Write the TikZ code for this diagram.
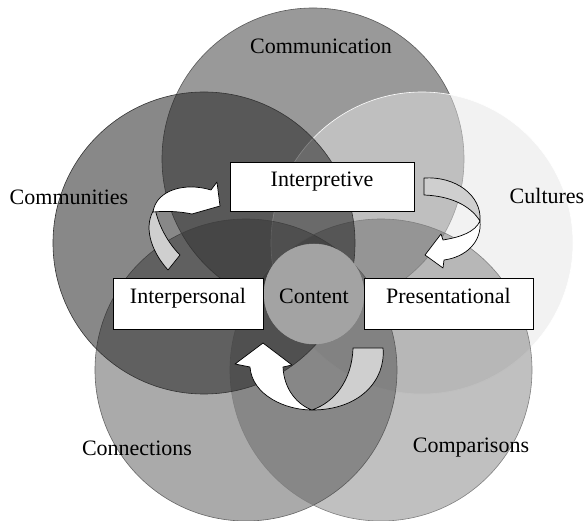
\documentclass[tikz,border=0pt]{standalone}
\usepackage{fontspec}
\setmainfont{Liberation Serif}

\definecolor{CommunicationFill}{gray}{0.6}
\definecolor{CulturesFill}{gray}{0.9}
\definecolor{ConnectionsFill}{gray}{0.27}
\definecolor{ComparisonsFill}{gray}{0.27}
\definecolor{CommunitiesFill}{gray}{0.12}
\definecolor{ContentFill}{gray}{0.64}
\definecolor{TailFill}{gray}{0.81}

\tikzset{
  area/.style={line width=0.6pt},
  arealabel/.style={inner sep=0pt},
  modebox/.style={draw=black, fill=white, line width=0.7pt, rectangle,
    inner sep=0pt, text height=15pt, text depth=14pt},
  arrowline/.style={draw=black, line width=0.7pt, line join=round},
}

\begin{document}
\begin{tikzpicture}[x=1pt, y=-1pt, font=\fontsize{22}{26}\selectfont]
\useasboundingbox (0,0) rectangle (587,521);

% centres of the five circles
\coordinate (Communication) at (313,159);
\coordinate (Cultures) at (422,243);
\coordinate (Connections) at (246,370);
\coordinate (Comparisons) at (381,370);
\coordinate (Communities) at (204,243);

\draw[area, fill=CommunicationFill, draw=black!65] (Communication) circle[radius=151];
\draw[area, fill=CulturesFill, fill opacity=0.5, draw=white] (Cultures) circle[radius=151];
\draw[area, fill=ConnectionsFill, fill opacity=0.46, draw=black!60] (Connections) circle[radius=151];
\draw[area, fill=ComparisonsFill, fill opacity=0.34, draw=black!50] (Comparisons) circle[radius=151];
\draw[area, fill=CommunitiesFill, fill opacity=0.53, draw=black!80] (Communities) circle[radius=151];

\node[arealabel] (communication) at (321,46) {Communication};
\node[arealabel] (communities) at (69,197) {Communities};
\node[arealabel] (cultures) at (547,196) {Cultures};
\node[arealabel] (connections) at (137,448) {Connections};
\node[arealabel] (comparisons) at (471,448) {Comparisons};

\node[circle, fill=ContentFill, draw=black!35, line width=0.5pt, minimum size=100pt,
  inner sep=0pt, text height=20pt, text depth=0pt] (content) at (314,294) {Content};

\node[modebox, minimum width=184pt, minimum height=49pt] (interpretive) at (322,186.5) {Interpretive};
\node[modebox, minimum width=150pt, minimum height=51pt] (interpersonal) at (188,303.5) {Interpersonal};
\node[modebox, minimum width=169pt, minimum height=51pt] (presentational) at (448.5,303.5) {Presentational};

% Interpersonal -> Interpretive
\draw[arrowline, fill=TailFill] (168,270) .. controls (150,250) and (143,225) .. (155,208)
  .. controls (157,220) and (165,240) .. (180,255) -- cycle;
\draw[arrowline, fill=white] (153,212) .. controls (156,190) and (185,182) .. (211,190)
  -- (217,182) -- (220,206) -- (192,214)
  .. controls (178,211) and (164,211) .. (153,212) -- cycle;

% Interpretive -> Presentational
\draw[arrowline, fill=TailFill] (424,178) .. controls (455,176) and (482,195) .. (480,221)
  .. controls (470,205) and (450,196) .. (424,195) -- cycle;
\draw[arrowline, fill=white] (480,221) .. controls (482,242) and (466,257) .. (444,260)
  -- (443,268) -- (425,255) -- (441,234) -- (443,240)
  .. controls (461,237) and (475,232) .. (480,221) -- cycle;

% Presentational -> Interpersonal
\draw[arrowline, fill=TailFill] (383,348) .. controls (386,380) and (360,410) .. (312,410)
  .. controls (335,402) and (352,380) .. (353,348) -- cycle;
\draw[arrowline, fill=white] (312,410) .. controls (285,410) and (252,395) .. (250,367)
  -- (235,364) -- (263,343) -- (292,365) -- (283,367)
  .. controls (284,390) and (298,405) .. (312,410) -- cycle;

\end{tikzpicture}
\end{document}
